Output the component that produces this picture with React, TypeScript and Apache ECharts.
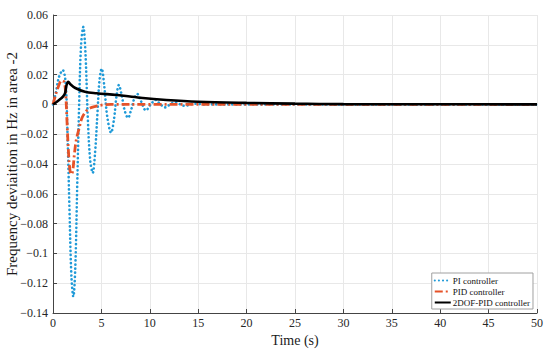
import React, { useEffect, useRef } from "react";
import * as echarts from "echarts";

const xTicks = [0, 5, 10, 15, 20, 25, 30, 35, 40, 45, 50];
const yTicks = [0.06, 0.04, 0.02, 0, -0.02, -0.04, -0.06, -0.08, -0.1, -0.12, -0.14];

const seriesNames = ["PI controller", "PID controller", "2DOF-PID controller"];

const piTime = [0, 0.3, 0.6, 1.0, 1.3, 1.5, 1.7, 1.9, 2.1, 2.3, 2.5, 2.7, 2.9, 3.13, 3.35, 3.6, 3.85, 4.1, 4.35, 4.6, 4.8, 5.03, 5.3, 5.6, 6.0, 6.3, 6.55, 6.8, 7.1, 7.4, 7.75, 8.1, 8.4, 8.7, 9.1, 9.6, 10.1, 10.6, 11.1, 11.6, 12.1, 12.6, 13.6, 14.6, 15.6, 20, 30, 40, 50];
const piValue = [0, 0.008, 0.018, 0.023, 0.015, -0.02, -0.07, -0.115, -0.129, -0.11, -0.055, 0.0, 0.04, 0.052, 0.035, -0.01, -0.038, -0.046, -0.032, -0.005, 0.016, 0.024, 0.012, -0.008, -0.019, -0.01, 0.005, 0.013, 0.006, -0.004, -0.009, -0.003, 0.004, 0.007, 0.002, -0.004, 0.0, 0.003, 0.0, -0.002, 0.0, 0.0015, -0.001, 0.0005, 0, 0, 0, 0, 0];

const pidTime = [0, 0.25, 0.5, 0.9, 1.15, 1.3, 1.45, 1.6, 1.75, 1.9, 2.05, 2.2, 2.4, 2.7, 3.0, 3.5, 4.0, 5.0, 6.0, 10, 20, 30, 40, 50];
const pidValue = [0, 0.006, 0.011, 0.016, 0.015, 0.008, -0.012, -0.032, -0.044, -0.047, -0.044, -0.034, -0.024, -0.016, -0.009, -0.004, -0.002, -0.0005, 0, 0, 0, 0, 0, 0];

const dofTime = [0, 0.4, 0.72, 1.0, 1.24, 1.4, 1.58, 1.8, 2.3, 3.3, 4.5, 6.6, 9.0, 11.7, 15, 20, 25, 30, 40, 50];
const dofValue = [0, 0.0018, 0.0034, 0.005, 0.0074, 0.013, 0.0152, 0.0135, 0.011, 0.0085, 0.0075, 0.0063, 0.0045, 0.003, 0.0018, 0.001, 0.0005, 0.0002, 0.0001, 0];

const zip = (t: number[], v: number[]) => t.map((x, i) => [x, v[i]]);

const fmtY = (v: number) => {
  const r = Math.round(v * 1000) / 1000;
  if (r === 0) return "0";
  const s = String(Math.abs(r));
  return (r < 0 ? "\u2212" : "") + s;
};

const FONT = "'Liberation Serif', 'DejaVu Serif', serif";

export default function App() {
  const ref = useRef<HTMLDivElement>(null);
  useEffect(() => {
    if (!ref.current) return;
    const chart = echarts.init(ref.current, undefined, { renderer: "svg" });
    chart.setOption({
      animation: false,
      backgroundColor: "#ffffff",
      textStyle: { fontFamily: FONT },
      grid: { left: 53, right: 13, top: 15, bottom: 38, containLabel: false, outerBoundsMode: "none" },
      legend: {
        right: 17,
        bottom: 42,
        orient: "vertical",
        backgroundColor: "#ffffff",
        borderColor: "#a0a0a0",
        borderWidth: 1,
        borderRadius: 0,
        padding: [3, 3, 2, 2],
        itemGap: 2,
        itemWidth: 16,
        itemHeight: 8,
        itemStyle: { opacity: 0 },
        textStyle: { fontFamily: FONT, fontSize: 9, color: "#111", padding: [0, 0, 0, -3] },
        data: seriesNames,
      },
      xAxis: {
        type: "value",
        min: 0,
        max: 50,
        interval: 5,
        name: "Time (s)",
        nameLocation: "middle",
        nameGap: 20,
        nameMoveOverlap: false,
        nameTextStyle: { fontFamily: FONT, fontSize: 14, color: "#1a1a1a" },
        axisLine: { show: true, onZero: false, lineStyle: { color: "#444", width: 1 } },
        axisTick: { show: true, inside: true, length: 4, lineStyle: { color: "#444" } },
        axisLabel: { fontFamily: FONT, fontSize: 12, color: "#262626", margin: 4 },
        splitLine: { show: true, lineStyle: { color: "#e8e8e8", width: 1 } },
      },
      yAxis: {
        type: "value",
        min: -0.14,
        max: 0.06,
        interval: 0.02,
        name: "Frequency deviaition in Hz in area -2",
        nameLocation: "middle",
        nameGap: 34,
        nameMoveOverlap: false,
        nameTextStyle: { fontFamily: FONT, fontSize: 15, color: "#1a1a1a" },
        axisLine: { show: true, lineStyle: { color: "#444", width: 1 } },
        axisTick: { show: true, inside: true, length: 4, lineStyle: { color: "#444" } },
        axisLabel: { fontFamily: FONT, fontSize: 12, color: "#262626", margin: 5, formatter: fmtY },
        splitLine: { show: true, lineStyle: { color: "#e8e8e8", width: 1 } },
      },
      series: [
        {
          name: seriesNames[0],
          type: "line",
          data: zip(piTime, piValue),
          smooth: 0.35,
          symbol: "none",
          itemStyle: { color: "#1f9ad8" },
          lineStyle: { color: "#1f9ad8", width: 2.6, type: [0.1, 4], cap: "round" },
          z: 2,
        },
        {
          name: seriesNames[1],
          type: "line",
          data: zip(pidTime, pidValue),
          smooth: 0.35,
          symbol: "none",
          itemStyle: { color: "#e65228" },
          lineStyle: { color: "#e65228", width: 2.8, type: [8, 3, 2, 3] },
          z: 3,
        },
        {
          name: seriesNames[2],
          type: "line",
          data: zip(dofTime, dofValue),
          smooth: 0.35,
          symbol: "none",
          itemStyle: { color: "#000000" },
          lineStyle: { color: "#000000", width: 2.6 },
          z: 4,
        },
      ],
    });
    return () => chart.dispose();
  }, []);
  return <div ref={ref} style={{ width: 550, height: 351, position: "absolute", left: 0, top: 0 }} />;
}
